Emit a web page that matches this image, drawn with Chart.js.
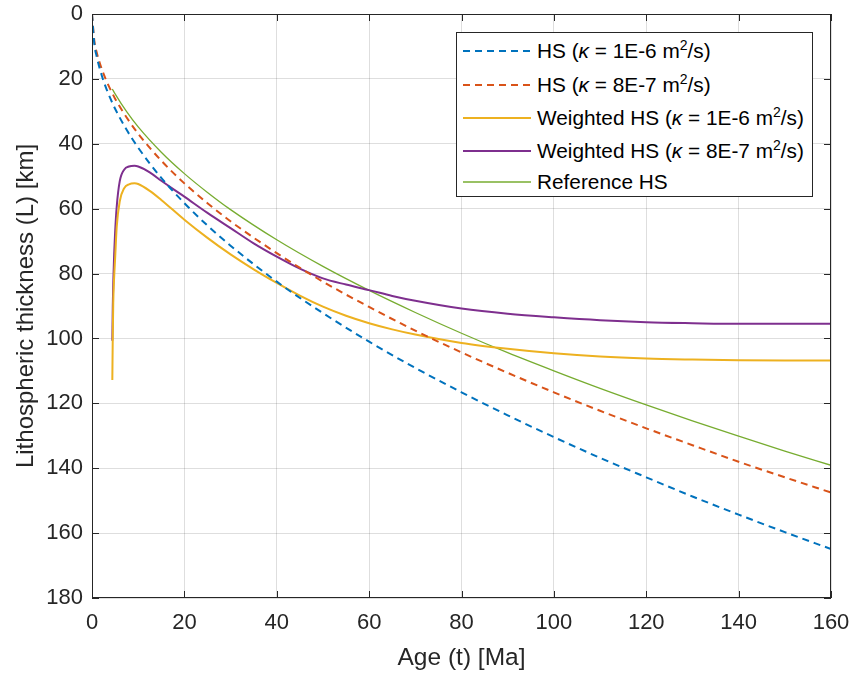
<!DOCTYPE html>
<html>
<head>
<meta charset="utf-8">
<script src="https://cdn.jsdelivr.net/npm/chart.js@4.4.1/dist/chart.umd.min.js"></script>
<style>
  body { margin: 0; background: #fff; }
  #wrap { position: relative; width: 851px; height: 673px; }
  #legenda {
    position: absolute; left: 456px; top: 32px; width: 357px; height: 165px;
    border: 1px solid #262626; background: #fff; box-sizing: border-box;
    font-family: "Liberation Sans", Arial, sans-serif; font-size: 20.8px; color: #000;
  }
  .fila { position: absolute; left: 0; display: flex; align-items: center; height: 30px; white-space: nowrap; }
  .fila svg { margin-left: 6px; margin-right: 6px; }
  .fila sup { font-size: 14px; line-height: 0; }
</style>
</head>
<body>
<div id="wrap">
  <canvas id="grafico" width="851" height="673"></canvas>
  <div id="legenda"></div>
</div>
<script>
// Espesor litosferico vs edad (half-space)

// HS: edades y espesores [km]
const edadesHS = [0, 0.5, 1, 2, 3, 4, 5, 7.5, 10, 15, 20, 25, 30, 40, 50, 60, 70, 80, 90, 100, 110, 120, 130, 140, 150, 160]
const hsK1 = [0, 9.2, 13.0, 18.4, 22.6, 26.1, 29.2, 35.7, 41.2, 50.5, 58.3, 65.2, 71.4, 82.5, 92.2, 101.0, 109.1, 116.6, 123.7, 130.4, 136.8, 142.8, 148.7, 154.3, 159.7, 164.9]
const hsK08 = [0, 8.2, 11.7, 16.5, 20.2, 23.3, 26.1, 31.9, 36.9, 45.2, 52.2, 58.3, 63.9, 73.7, 82.5, 90.3, 97.6, 104.3, 110.6, 116.6, 122.3, 127.7, 132.9, 138.0, 142.8, 147.5]

// HS ponderado
const edadesW = [4.4, 4.5, 4.6, 4.8, 5.0, 5.35, 6.0, 7.0, 8.0, 9.2, 10, 12.5, 15, 20, 25, 30, 35, 40, 45, 50, 55, 60, 65, 70, 80, 90, 100, 110, 120, 130, 140, 150, 160]
const wK1 = [112.8, 99, 89, 81, 75.5, 65.6, 57.8, 53.6, 52.5, 52.2, 52.4, 54.5, 57.3, 63.4, 69.0, 74.1, 78.7, 82.9, 86.8, 90.2, 93.0, 95.3, 97.2, 98.8, 101.4, 103.2, 104.6, 105.6, 106.2, 106.5, 106.7, 106.8, 106.8]
const wK08 = [100.7, 90, 83, 74, 67.4, 59.4, 51.6, 47.9, 47.0, 46.8, 47.0, 48.8, 51.4, 56.3, 61.3, 66.0, 70.7, 74.8, 78.5, 81.5, 83.4, 85.1, 86.9, 88.4, 90.8, 92.4, 93.5, 94.4, 95.0, 95.3, 95.5, 95.5, 95.5]

// HS de referencia
const edadesRef = [4.4, 5, 7.5, 10, 15, 20, 25, 30, 40, 50, 60, 70, 80, 90, 100, 110, 120, 130, 140, 150, 160]
const hsRef = [23.1, 24.6, 30.1, 34.8, 42.6, 49.2, 55.0, 60.3, 69.6, 77.8, 85.2, 92.0, 98.4, 104.4, 110.0, 115.4, 120.5, 125.4, 130.1, 134.7, 139.1]

// Ejes
const ticksX = [0, 20, 40, 60, 80, 100, 120, 140, 160]
const ticksY = [0, 20, 40, 60, 80, 100, 120, 140, 160, 180]

const etiquetas = [
  'HS (<i>&kappa;</i> = 1E-6 m<sup>2</sup>/s)',
  'HS (<i>&kappa;</i> = 8E-7 m<sup>2</sup>/s)',
  'Weighted HS (<i>&kappa;</i> = 1E-6 m<sup>2</sup>/s)',
  'Weighted HS (<i>&kappa;</i> = 8E-7 m<sup>2</sup>/s)',
  'Reference HS',
]

const colores = ['#0072BD', '#D95319', '#EDB120', '#7E2F8E', '#77AC30']
const textoEje = '#262626'

function puntos(xs, ys) {
  return xs.map((x, i) => ({ x: x, y: ys[i] }))
}

const series = [
  { data: puntos(edadesHS, hsK1), dash: [7, 5], ancho: 2 },
  { data: puntos(edadesHS, hsK08), dash: [7, 5], ancho: 2 },
  { data: puntos(edadesW, wK1), dash: [], ancho: 2 },
  { data: puntos(edadesW, wK08), dash: [], ancho: 2 },
  { data: puntos(edadesRef, hsRef), dash: [], ancho: 1.3 },
]

// Caja de ejes con marcas hacia adentro (estilo MATLAB)
const cajaEjes = {
  id: 'cajaEjes',
  afterDatasetsDraw(chart) {
    const { ctx, chartArea: a, scales } = chart
    ctx.save()
    ctx.strokeStyle = textoEje
    ctx.lineWidth = 1
    ctx.strokeRect(a.left + 0.5, a.top + 0.5, a.right - a.left - 1, a.bottom - a.top - 1)
    ctx.beginPath()
    ticksX.forEach((v) => {
      const px = Math.round(scales.x.getPixelForValue(v)) + 0.5
      ctx.moveTo(px, a.bottom); ctx.lineTo(px, a.bottom - 7)
      ctx.moveTo(px, a.top); ctx.lineTo(px, a.top + 7)
    })
    ticksY.forEach((v) => {
      const py = Math.round(scales.y.getPixelForValue(v)) + 0.5
      ctx.moveTo(a.left, py); ctx.lineTo(a.left + 7, py)
      ctx.moveTo(a.right, py); ctx.lineTo(a.right - 7, py)
    })
    ctx.stroke()
    ctx.restore()
  },
}

const fuente = '"Liberation Sans", Arial, sans-serif'

new Chart(document.getElementById('grafico'), {
  type: 'line',
  data: {
    datasets: series.map((s, i) => ({
      label: etiquetas[i],
      data: s.data,
      borderColor: colores[i],
      borderWidth: s.ancho,
      borderDash: s.dash,
      pointRadius: 0,
      fill: false,
      cubicInterpolationMode: 'monotone',
    })),
  },
  options: {
    responsive: false,
    animation: false,
    layout: { padding: { top: 14, right: 20, left: 0, bottom: 0 } },
    plugins: { legend: { display: false }, tooltip: { enabled: false } },
    scales: {
      x: {
        type: 'linear',
        min: 0,
        max: 160,
        afterBuildTicks: (s) => { s.ticks = ticksX.map((v) => ({ value: v })) },
        afterFit: (s) => {
          s.height = 75
          s.paddingLeft = 0
          s.paddingRight = 0
        },
        grid: { color: 'rgba(0,0,0,0.13)', drawTicks: false },
        border: { display: false },
        ticks: { color: textoEje, font: { family: fuente, size: 22 }, padding: 12 },
        title: { display: true, text: 'Age (t) [Ma]', color: textoEje, font: { family: fuente, size: 24.5 }, padding: { top: 5, bottom: 0 } },
      },
      y: {
        type: 'linear',
        reverse: true,
        min: 0,
        max: 180,
        afterBuildTicks: (s) => { s.ticks = ticksY.map((v) => ({ value: v })) },
        afterFit: (s) => {
          s.width = 92
          s.paddingTop = 0
          s.paddingBottom = 0
        },
        grid: { color: 'rgba(0,0,0,0.13)', drawTicks: false },
        border: { display: false },
        ticks: { color: textoEje, font: { family: fuente, size: 22 }, padding: 9 },
        title: { display: true, text: 'Lithospheric thickness (L) [km]', color: textoEje, font: { family: fuente, size: 24 }, padding: { top: 12, bottom: 0 } },
      },
    },
  },
  plugins: [cajaEjes],
})

// Leyenda en HTML (para superindices)
const leyenda = document.getElementById('legenda')
const centrosFila = [19, 53, 86, 119, 150]
series.forEach((s, i) => {
  const fila = document.createElement('div')
  fila.className = 'fila'
  fila.style.top = centrosFila[i] - 15 - 1 + 'px'
  const dash = s.dash.length ? `stroke-dasharray="${s.dash.join(',')}"` : ''
  fila.innerHTML = `<svg width="68" height="6"><line x1="0" y1="3" x2="68" y2="3" stroke="${colores[i]}" stroke-width="${s.ancho}" ${dash}/></svg><span>${etiquetas[i]}</span>`
  leyenda.appendChild(fila)
})
</script>
</body>
</html>
